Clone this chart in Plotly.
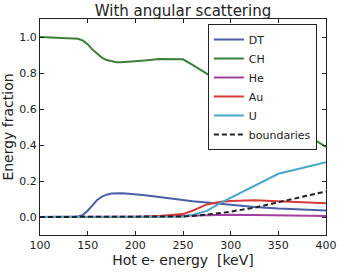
import plotly.graph_objects as go

energy = [100, 125, 140, 145, 150, 155, 160, 165, 170, 175, 180, 185, 190, 200, 210, 225, 240, 250,
          260, 275, 290, 300, 325, 350, 375, 400]
dt = [0.0, 0.0, 0.003, 0.012, 0.035, 0.065, 0.095, 0.113, 0.124, 0.13, 0.132, 0.132, 0.131, 0.127, 0.121, 0.111, 0.1, 0.094,
      0.088, 0.08, 0.072, 0.066, 0.056, 0.047, 0.041, 0.036]
ch = [1.0, 0.995, 0.99, 0.98, 0.96, 0.93, 0.905, 0.885, 0.872, 0.864, 0.86, 0.86, 0.861, 0.864, 0.869, 0.878, 0.879, 0.876,
      0.845, 0.795, 0.745, 0.713, 0.633, 0.552, 0.471, 0.39]
he = [0.0, 0.0, 0.0, 0.0, 0.0, 0.0, 0.0, 0.0, 0.0, 0.0, 0.0, 0.0, 0.0, 0.001, 0.002, 0.003, 0.005, 0.007,
      0.009, 0.012, 0.013, 0.013, 0.011, 0.009, 0.007, 0.005]
au = [0.0, 0.0, 0.0, 0.0, 0.0, 0.0, 0.0, 0.0, 0.0, 0.0, 0.0, 0.0, 0.0, 0.0, 0.002, 0.005, 0.01, 0.016,
      0.035, 0.07, 0.085, 0.089, 0.093, 0.088, 0.082, 0.076]
u = [0.0, 0.0, 0.0, 0.0, 0.0, 0.0, 0.0, 0.0, 0.0, 0.0, 0.0, 0.0, 0.0, 0.0, 0.0, 0.0, 0.0, 0.002,
      0.012, 0.034, 0.08, 0.107, 0.176, 0.24, 0.272, 0.305]
boundaries = [0.0, 0.0, 0.0, 0.0, 0.0, 0.0, 0.0, 0.0, 0.0, 0.0, 0.0, 0.0, 0.0, 0.0, 0.0, 0.0, 0.001, 0.003,
              0.006, 0.012, 0.022, 0.03, 0.052, 0.082, 0.11, 0.142]

names = ["DT", "CH", "He", "Au", "U"]
series = [dt, ch, he, au, u]
colors = ["#4a5fa6", "#3b7f3b", "#a2429e", "#d83a3a", "#49a6c6"]

fig = go.Figure()
for n, s, c in zip(names, series, colors):
    fig.add_trace(go.Scatter(x=energy, y=s, mode="lines", name=n,
                             line=dict(color=c, width=2)))
fig.add_trace(go.Scatter(x=energy, y=boundaries, mode="lines", name="boundaries",
                         line=dict(color="#222222", width=2, dash="5px,3px")))

font = "DejaVu Sans, sans-serif"
fig.update_layout(
    width=347, height=273,
    margin=dict(l=40, r=21, t=19, b=38, autoexpand=False),
    paper_bgcolor="white", plot_bgcolor="white",
    font=dict(family=font, size=11, color="#222222"),
    title=dict(text="With angular scattering", x=0.5, xanchor="center", xref="paper",
               y=1 - 10.5 / 273, yanchor="middle", font=dict(size=15, color="#222222")),
    showlegend=True,
    legend=dict(x=0.968, y=0.977, xanchor="right", yanchor="top",
                bgcolor="white", bordercolor="#222222", borderwidth=1,
                font=dict(size=11), itemwidth=30, tracegroupgap=0),
    xaxis=dict(range=[100, 400], dtick=50, tick0=100, showgrid=False, zeroline=False,
               showline=True, linecolor="#222222", linewidth=1, mirror="ticks",
               ticks="inside", ticklen=4, tickcolor="#222222", automargin=False,
               title=dict(text="Hot e- energy  [keV]", font=dict(size=14), standoff=2),
               tickfont=dict(size=11)),
    yaxis=dict(range=[-0.1, 1.1], tickvals=[0, 0.2, 0.4, 0.6, 0.8, 1.0], tickformat=".1f",
               showgrid=False, zeroline=False,
               showline=True, linecolor="#222222", linewidth=1, mirror="ticks",
               ticks="inside", ticklen=4, tickcolor="#222222", automargin=False,
               title=dict(text="Energy fraction", font=dict(size=14), standoff=2),
               tickfont=dict(size=11)),
)

fig.write_html("out.html", config={"displayModeBar": False},
               post_script="document.body.style.margin='0';")
